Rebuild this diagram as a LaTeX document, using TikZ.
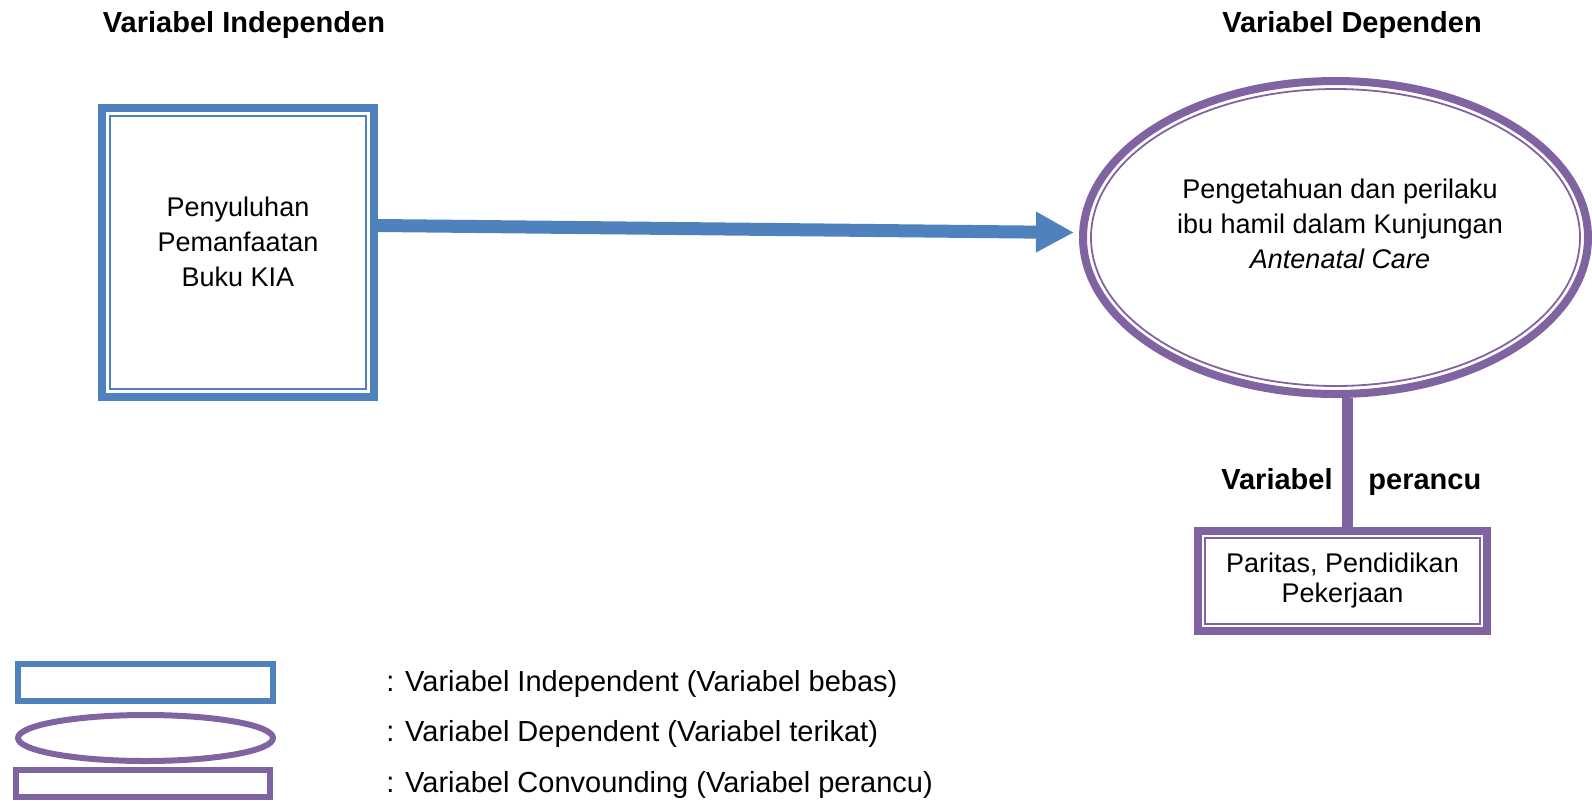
\documentclass[tikz,border=0pt]{standalone}
\usepackage{fontspec}
\setmainfont{Liberation Sans}
\usetikzlibrary{arrows.meta,positioning,shapes.geometric}
\usepackage{xcolor}
\definecolor{kiablue}{RGB}{79,129,189}
\definecolor{kiapurple}{RGB}{128,100,162}
\tikzset{
    varbox/.style={
        draw=#1,line width=4pt,inner sep=0pt
    },
    varbox/.default=kiablue,
    varoval/.style={
        ellipse,draw=#1,line width=4pt,inner sep=0pt
    },
    varoval/.default=kiapurple,
    inline/.style={
        draw=#1,line width=.9pt
    },
    inline/.default=kiablue,
    head/.style={
        inner sep=0pt,font=\fontsize{14.5}{17}\selectfont\bfseries
    },
    body/.style={
        align=center,inner sep=0pt,font=\fontsize{13.5}{17.5}\selectfont
    },
    legtext/.style={
        anchor=west,inner sep=0pt,font=\fontsize{14.5}{17}\selectfont
    },
    arrow/.style={
        -{Triangle[length=19pt,width=19pt]},line width=6.5pt,draw=kiablue
    },
    link/.style={
        line width=5.5pt,draw=kiapurple
    }
}

\begin{document}
\begin{tikzpicture}[x=.5pt,y=-.5pt]
\useasboundingbox (0,0) rectangle (1592,800);

% headings
\node[head] (indephead) at (244,25) {Variabel Independen};
\node[head] (dephead) at (1352,25) {Variabel Dependen};

% independent variable
\node[
varbox,minimum width=136pt,minimum height=144.5pt
]
(indep) at (238,252.5) {};
\draw[inline]
([shift={(6pt,-6pt)}]indep.north west) rectangle ([shift={(-6pt,6pt)}]indep.south east);
\node[body] (indeptext) at ([yshift=5.5pt]indep.center)
{Penyuluhan\\Pemanfaatan\\Buku KIA};

% dependent variable
\node[
varoval,minimum width=252.5pt,minimum height=156.5pt
]
(dep) at (1335.5,237.5) {};
\draw[inline=kiapurple]
(dep.center) ellipse [x radius=122.25pt,y radius=74.25pt];
\node[body] (deptext) at ([shift={(2.25pt,7pt)}]dep.center)
{Pengetahuan dan perilaku\\ibu hamil dalam Kunjungan\\\textit{Antenatal Care}};

% confounding variable
\node[
varbox=kiapurple,minimum width=144.5pt,minimum height=50pt
]
(confound) at (1342.5,581) {};
\draw[inline=kiapurple]
([shift={(5.5pt,-5.5pt)}]confound.north west) rectangle ([shift={(-5.5pt,5.5pt)}]confound.south east);
\node[body,font=\fontsize{13.5}{15}\selectfont] (confoundtext) at (confound.center)
{Paritas, Pendidikan\\Pekerjaan};

\draw[arrow]
([yshift=13.5pt]indep.east)--([shift={(-2.5pt,2.5pt)}]dep.west);

\draw[link]
([xshift=2.5pt]confound.north)--([xshift=2.5pt]confound.north |- dep.south);

\node[head,anchor=base east] (linkleft) at (1333,489) {Variabel};
\node[head,anchor=base west] (linkright) at (1368,489) {perancu};

% legend
\node[
varbox,line width=3pt,minimum width=127.5pt,minimum height=18.5pt
]
(legindep) at (145.5,682.5) {};
\node[
varoval,line width=3pt,minimum width=127.5pt,minimum height=23pt
]
(legdep) at (145.5,738) {};
\node[
varbox=kiapurple,line width=3pt,minimum width=127pt,minimum height=13.5pt
]
(legconf) at (143,783.5) {};

\node[legtext] (legindeptext) at (386,684) {: Variabel Independent (Variabel bebas)};
\node[legtext] (legdeptext) at (386,734) {: Variabel Dependent (Variabel terikat)};
\node[legtext] (legconftext) at (386,785) {: Variabel Convounding (Variabel perancu)};

\end{tikzpicture}
\end{document}
